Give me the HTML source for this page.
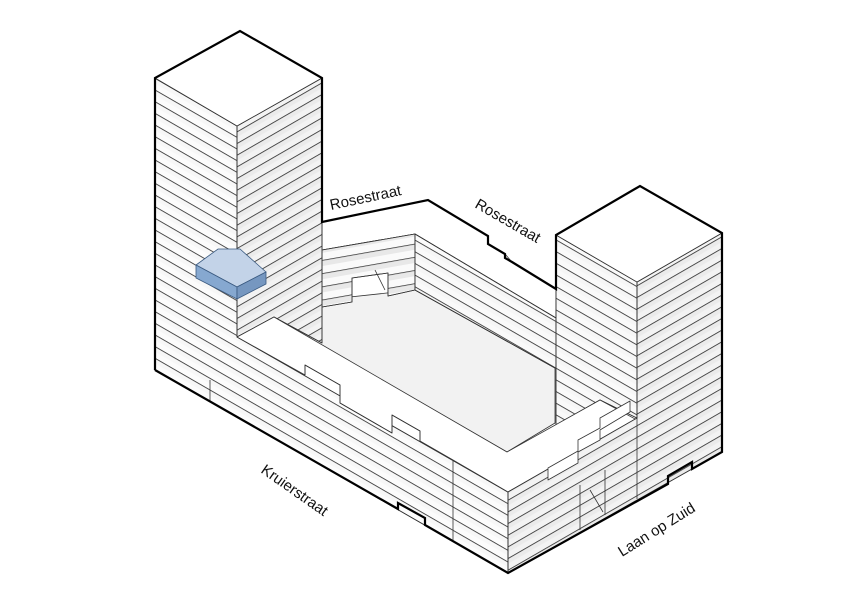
<!DOCTYPE html>
<html><head><meta charset="utf-8"><style>
html,body{margin:0;padding:0;background:#fff;width:842px;height:595px;overflow:hidden}
svg{display:block}
text{font-family:"Liberation Sans",sans-serif;font-size:15px;fill:#111}
</style></head><body>
<svg width="842" height="595" viewBox="0 0 842 595" xmlns="http://www.w3.org/2000/svg">
<defs>
<pattern id="hL" patternUnits="userSpaceOnUse" width="40" height="10.1" patternTransform="rotate(30)">
<rect width="40" height="5" fill="#ececec" opacity="0.3"/><line x1="0" y1="0.4" x2="40" y2="0.4" stroke="#333" stroke-width="0.8"/></pattern>
<pattern id="hR" patternUnits="userSpaceOnUse" width="40" height="10.1" patternTransform="rotate(-30)">
<rect width="40" height="5" fill="#dcdcdc" opacity="0.35"/><line x1="0" y1="0.4" x2="40" y2="0.4" stroke="#333" stroke-width="0.8"/></pattern>
<pattern id="hB" patternUnits="userSpaceOnUse" width="40" height="13" patternTransform="rotate(-10)">
<rect width="40" height="6" fill="#dcdcdc" opacity="0.6"/><line x1="0" y1="0.4" x2="40" y2="0.4" stroke="#333" stroke-width="0.8"/></pattern>
</defs>
<g stroke="#333" stroke-width="0.8" stroke-linejoin="round">
<polygon points="322,300 415,290 555,368 555,423 507,452 300,333 322,320" fill="#f2f2f2"/>
<polygon points="322,222 428,200 488,236 488,244 505,254 512,262 556,289 556,318 415,234 322,250" fill="#fff"/>
<polygon points="322,250 415,234 415,290 388,296 388,273 352,278 352,302 322,307" fill="#fafafa"/>
<polygon points="322,250 415,234 415,290 388,296 388,273 352,278 352,302 322,307" fill="url(#hB)"/>
<polyline points="375,270 385,290" fill="none"/>
<polygon points="415,234 556,318 556,368 555,368 415,290" fill="#fafafa"/>
<polygon points="415,234 556,318 556,368 555,368 415,290" fill="url(#hL)"/>
<polygon points="556,235 637,282 637,418 600,400 556,425" fill="#fafafa"/>
<polygon points="556,235 637,282 637,418 600,400 556,425" fill="url(#hL)"/>
<polygon points="237,126 322,78 322,343 274,317 237,337" fill="#f3f3f3"/>
<polygon points="237,126 322,78 322,343 274,317 237,337" fill="url(#hR)"/>
<polygon points="155,78 237,126 237,337 508,492 508,573 155,370" fill="#fcfcfc"/>
<polygon points="155,78 237,126 237,337 508,492 508,573 155,370" fill="url(#hL)"/>
<polygon points="237,337 274,317 507,452 600,400 637,420 508,492 453,460 420,441 420,431 392,415 392,433 340,403 340,385 305,365 305,375" fill="#fff"/>
<polyline points="305,375 305,365 340,385 340,403 392,433 392,415 420,431 420,441" fill="none"/>
<polygon points="508,492 637,418 637,282 722,233 722,452 508,573" fill="#f3f3f3"/>
<polygon points="508,492 637,418 637,282 722,233 722,452 508,573" fill="url(#hR)"/>
<polygon points="548,468 578,451 578,440 600,428 600,418 630,401 630,412 600,430 600,440 578,452 578,463 548,480" fill="#fff"/>
<line x1="453" y1="460" x2="453" y2="540"/>
<line x1="508" y1="492" x2="508" y2="573"/>
<line x1="637" y1="282" x2="637" y2="499"/>
<line x1="237" y1="126" x2="237" y2="337"/>
<line x1="210" y1="380" x2="210" y2="402"/>
<line x1="580" y1="485" x2="580" y2="530"/>
<line x1="605" y1="470" x2="605" y2="515"/>
<line x1="590" y1="490" x2="603" y2="512"/>
<polygon points="155,78 240,31 322,78 237,126" fill="#fff"/>
<polygon points="556,235 640,186 722,233 637,282" fill="#fff"/>
</g>
<g stroke="#3a5a80" stroke-width="0.8">
<polygon points="196,265 218,249 240,249 266,272 237,287" fill="#c3d3e8"/>
<polygon points="196,265 237,287 237,299 196,278" fill="#86a8d0"/>
<polygon points="237,287 266,272 266,284 237,299" fill="#7697c0"/>
</g>
<polyline points="155,370 155,78 240,31 322,78 322,222 428,200 488,236 488,244 505,254 505,258 512,262 556,289 556,235 640,186 722,233 722,452 692,469 692,462 668,476 668,484 508,573 425,525 425,518 398,503 398,509 155,370" fill="none" stroke="#000" stroke-width="2.2" stroke-linejoin="miter"/>
<text transform="translate(331,210) rotate(-12)">Rosestraat</text>
<text transform="translate(474,207) rotate(30)">Rosestraat</text>
<text transform="translate(260,472) rotate(35)">Kruierstraat</text>
<text transform="translate(622,557) rotate(-32)">Laan op Zuid</text>
</svg>
</body></html>
